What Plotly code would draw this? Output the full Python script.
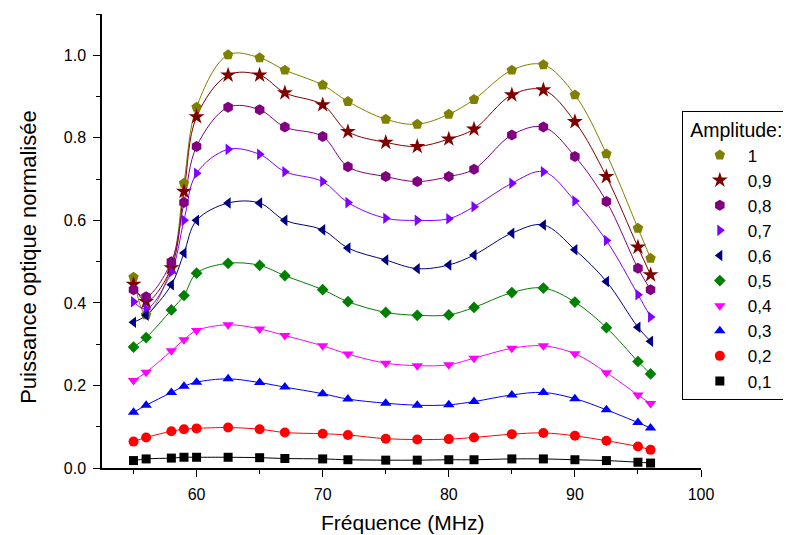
import plotly.graph_objects as go

freq = [55, 56, 58, 59, 60, 62.5, 65, 67, 70, 72, 75, 77.5, 80, 82, 85, 87.5, 90, 92.5, 95, 96]

amp_labels = ["1", "0,9", "0,8", "0,7", "0,6", "0,5", "0,4", "0,3", "0,2", "0,1"]

p_1_0 = [0.462, 0.371, 0.488, 0.690, 0.874, 1.001, 0.994, 0.964, 0.928, 0.888, 0.845, 0.833, 0.857, 0.893, 0.964, 0.977, 0.904, 0.761, 0.581, 0.508]
p_0_9 = [0.445, 0.403, 0.485, 0.670, 0.851, 0.952, 0.952, 0.909, 0.880, 0.815, 0.789, 0.779, 0.797, 0.821, 0.904, 0.916, 0.839, 0.706, 0.535, 0.468]
p_0_8 = [0.432, 0.415, 0.500, 0.643, 0.779, 0.874, 0.868, 0.826, 0.803, 0.730, 0.706, 0.694, 0.706, 0.724, 0.807, 0.826, 0.755, 0.646, 0.484, 0.432]
p_0_7 = [0.403, 0.385, 0.475, 0.600, 0.714, 0.772, 0.760, 0.718, 0.694, 0.643, 0.605, 0.600, 0.604, 0.633, 0.690, 0.718, 0.647, 0.551, 0.420, 0.366]
p_0_6 = [0.353, 0.370, 0.444, 0.521, 0.600, 0.642, 0.642, 0.600, 0.577, 0.533, 0.504, 0.483, 0.492, 0.516, 0.569, 0.589, 0.529, 0.452, 0.341, 0.307]
p_0_5 = [0.293, 0.316, 0.383, 0.418, 0.472, 0.496, 0.491, 0.466, 0.432, 0.403, 0.377, 0.370, 0.371, 0.389, 0.425, 0.436, 0.402, 0.340, 0.258, 0.228]
p_0_4 = [0.212, 0.232, 0.284, 0.311, 0.333, 0.347, 0.337, 0.321, 0.296, 0.276, 0.254, 0.248, 0.250, 0.266, 0.290, 0.296, 0.277, 0.231, 0.177, 0.156]
p_0_3 = [0.135, 0.152, 0.183, 0.198, 0.208, 0.216, 0.207, 0.196, 0.180, 0.167, 0.157, 0.152, 0.153, 0.161, 0.177, 0.183, 0.168, 0.141, 0.110, 0.097]
p_0_2 = [0.064, 0.074, 0.089, 0.094, 0.096, 0.098, 0.094, 0.086, 0.083, 0.080, 0.071, 0.069, 0.070, 0.074, 0.082, 0.085, 0.078, 0.066, 0.052, 0.044]
p_0_1 = [0.018, 0.022, 0.024, 0.026, 0.026, 0.026, 0.025, 0.023, 0.022, 0.020, 0.019, 0.019, 0.020, 0.020, 0.022, 0.022, 0.020, 0.018, 0.014, 0.012]

series = [p_1_0, p_0_9, p_0_8, p_0_7, p_0_6, p_0_5, p_0_4, p_0_3, p_0_2, p_0_1]
colors = ["#808000", "#800000", "#800080", "#8000FF", "#000080",
          "#008000", "#FF00FF", "#0000FF", "#FF0000", "#000000"]
symbols = ["pentagon", "star", "hexagon", "triangle-right", "triangle-left",
           "diamond", "triangle-down", "triangle-up", "circle", "square"]
sizes = [11, 12, 11, 10, 10, 9, 10, 10, 10, 9]

x_ticks = [60, 70, 80, 90, 100]
y_ticks = [0.0, 0.2, 0.4, 0.6, 0.8, 1.0]

fig = go.Figure()

for vals, col in zip(series, colors):
    fig.add_trace(go.Scatter(
        x=freq, y=vals, mode="lines",
        line=dict(color=col, width=1, shape="spline", smoothing=1.0),
        showlegend=False, hoverinfo="skip"))

for vals, col, sym, sz, lab in zip(series, colors, symbols, sizes, amp_labels):
    fig.add_trace(go.Scatter(
        x=freq, y=vals, mode="markers", name=lab,
        marker=dict(color=col, symbol=sym, size=sz, line=dict(width=0))))

font_family = "Arial, Liberation Sans, sans-serif"

fig.update_layout(
    width=783, height=527,
    margin=dict(l=94, r=90, t=6, b=67, autoexpand=False),
    paper_bgcolor="white", plot_bgcolor="white",
    font=dict(family=font_family, color="black", size=16),
    xaxis=dict(range=[52.5, 100], tickvals=x_ticks, showgrid=False, zeroline=False,
               showline=True, linecolor="black", linewidth=1.5,
               ticks="outside", ticklen=7, tickwidth=1.2, tickcolor="black",
               ticklabelstandoff=4,
               minor=dict(tickvals=[55, 65, 75, 85, 95], ticks="outside", ticklen=4,
                          tickwidth=1.2, tickcolor="black", showgrid=False),
               tickfont=dict(size=16)),
    yaxis=dict(range=[0, 1.1], tickvals=y_ticks, tickformat=".1f", showgrid=False,
               zeroline=False, showline=True, linecolor="black", linewidth=1.5,
               ticks="outside", ticklen=7, tickwidth=1.2, tickcolor="black",
               ticklabelstandoff=4,
               minor=dict(tickvals=[0.1, 0.3, 0.5, 0.7, 0.9, 1.1], ticks="outside",
                          ticklen=4, tickwidth=1.2, tickcolor="black", showgrid=False),
               tickfont=dict(size=16)),
    legend=dict(x=0.968, y=0.786, xanchor="left", yanchor="top",
                bordercolor="black", borderwidth=1, bgcolor="white",
                font=dict(size=17),
                title=dict(text="\u00a0Amplitude:", font=dict(size=19.5)),
                indentation=9, itemwidth=46, traceorder="normal"),
    annotations=[
        dict(text="Fréquence (MHz)", xref="paper", yref="paper", x=0.501, y=-0.119,
             showarrow=False, font=dict(size=21), xanchor="center", yanchor="middle"),
        dict(text="Puissance optique normalisée", xref="paper", yref="paper",
             x=-0.122, y=0.465, textangle=-90, showarrow=False, font=dict(size=22),
             xanchor="center", yanchor="middle"),
    ],
)

fig.write_html("out.html")
